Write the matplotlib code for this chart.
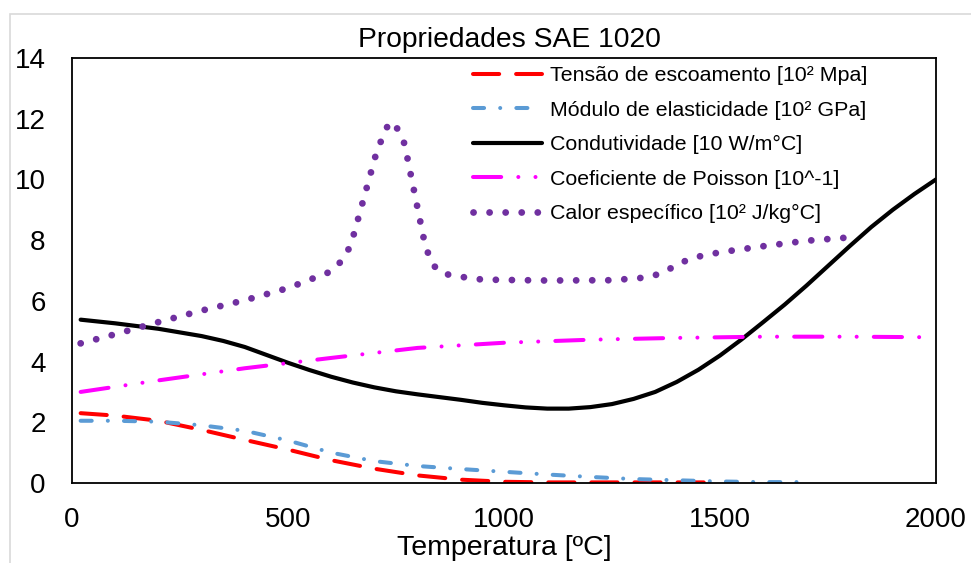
import matplotlib

matplotlib.use("Agg")
import matplotlib.pyplot as plt
from matplotlib.patches import Rectangle

plt.rcParams["font.family"] = ["Liberation Sans", "DejaVu Sans"]

# Tensão de escoamento [10² Mpa]
t_tensao = [20, 100, 200, 300, 400, 500, 600, 700, 800, 900, 1000, 1100, 1200, 1300, 1400, 1500]
v_tensao = [2.3, 2.22, 2.05, 1.75, 1.42, 1.1, 0.75, 0.47, 0.25, 0.11, 0.04, 0.02, 0.02, 0.02, 0.02, 0.02]

# Módulo de elasticidade [10² GPa]
t_modulo = [20, 100, 200, 300, 400, 500, 600, 700, 800, 900, 1000, 1100, 1200, 1300, 1400, 1500, 1600, 1680]
v_modulo = [2.05, 2.05, 2.02, 1.9, 1.72, 1.4, 1.0, 0.72, 0.56, 0.46, 0.37, 0.28, 0.2, 0.13, 0.09, 0.05, 0.03, 0.03]

# Condutividade [10 W/m°C]
t_cond = [20, 100, 200, 300, 350, 400, 450, 500, 550, 600, 650, 700, 750, 800, 850, 900, 950,
          1000, 1050, 1100, 1150, 1200, 1250, 1300, 1350, 1400, 1450, 1500, 1550, 1600, 1650,
          1700, 1750, 1800, 1850, 1900, 1950, 2000]
v_cond = [5.38, 5.26, 5.08, 4.84, 4.68, 4.48, 4.22, 3.96, 3.72, 3.5, 3.31, 3.15, 3.02, 2.92, 2.83,
          2.74, 2.64, 2.56, 2.49, 2.45, 2.45, 2.5, 2.6, 2.77, 3.0, 3.33, 3.73, 4.2, 4.73, 5.3, 5.88,
          6.5, 7.15, 7.8, 8.43, 9.0, 9.52, 10.0]

# Coeficiente de Poisson [10^-1]
t_poisson = [20, 200, 400, 600, 800, 1000, 1200, 1400, 1600, 1800, 2000]
v_poisson = [3.0, 3.38, 3.78, 4.12, 4.45, 4.62, 4.72, 4.78, 4.82, 4.82, 4.8]

# Calor específico [10² J/kg°C]
t_calor = [20, 100, 200, 300, 400, 500, 560, 600, 625, 645, 665, 685, 705, 720, 735,
           755, 770, 785, 800, 815, 830, 850, 880, 950, 1100, 1250, 1330, 1370, 1400,
           1440, 1500, 1600, 1700, 1800]
v_calor = [4.6, 4.9, 5.3, 5.68, 6.02, 6.42, 6.75, 6.97, 7.33, 7.82, 8.84, 9.87, 10.9, 11.43, 11.9,
           11.65, 11.16, 10.1, 9.05, 8.0, 7.3, 6.95, 6.83, 6.7, 6.67, 6.68, 6.77, 6.93, 7.2,
           7.43, 7.6, 7.8, 7.98, 8.09]

labels = [
    "Tensão de escoamento [10² Mpa]",
    "Módulo de elasticidade [10² GPa]",
    "Condutividade [10 W/m°C]",
    "Coeficiente de Poisson [10^-1]",
    "Calor específico [10² J/kg°C]",
]

W, H = 971, 563
fig = plt.figure(figsize=(W / 100, H / 100), dpi=100)

# light chart border
fig.patches.append(
    Rectangle((10 / W, -0.1), 1.2, 1 - 14 / H + 0.1, transform=fig.transFigure,
              fill=False, edgecolor="#D9D9D9", lw=1.2)
)

ax = fig.add_axes([72 / W, (H - 483) / H, 864 / W, (483 - 58) / H])

lw = 2.9
ax.plot(t_tensao, v_tensao, color="#FF0000", lw=lw, dashes=(6.5, 4.2),
        dash_capstyle="round", label=labels[0])
ax.plot(t_modulo, v_modulo, color="#5B9BD5", lw=lw, dashes=(2.75, 4.0, 0.01, 4.0),
        dash_capstyle="round", label=labels[1])
ax.plot(t_cond, v_cond, color="black", lw=3.0, solid_capstyle="round",
        solid_joinstyle="round", label=labels[2])
ax.plot(t_poisson, v_poisson, color="#FF00FF", lw=lw,
        dashes=(7, 4.25, 0.01, 4.25, 0.01, 4.25), dash_capstyle="round", label=labels[3])
ax.plot(t_calor, v_calor, color="#7030A0", lw=4.9, dashes=(0.01, 2.35),
        dash_capstyle="round", label=labels[4])

ax.set_xlim(0, 2000)
ax.set_ylim(0, 14)
ax.set_xticks([0, 500, 1000, 1500, 2000])
ax.set_yticks(range(0, 15, 2))
ax.tick_params(length=0, labelsize=20)
ax.tick_params(axis="x", pad=17)
ax.tick_params(axis="y", pad=19)
for s in ax.spines.values():
    s.set_linewidth(1.3)
    s.set_color("black")

fig.text(509 / W, 1 - 40 / H, "Propriedades SAE 1020", fontsize=20.3, ha="center", va="center")
fig.text(504 / W, 1 - 548 / H, "Temperatura [ºC]", fontsize=20.5, ha="center", va="center")

ax.legend(loc="upper left", bbox_to_anchor=(469 / W, 1 - 62 / H),
          bbox_transform=fig.transFigure, frameon=False, fontsize=15.4,
          handlelength=3.2, handletextpad=0.38, labelspacing=0.72,
          borderaxespad=0, borderpad=0.2)

fig.savefig("out.png", dpi=100)
